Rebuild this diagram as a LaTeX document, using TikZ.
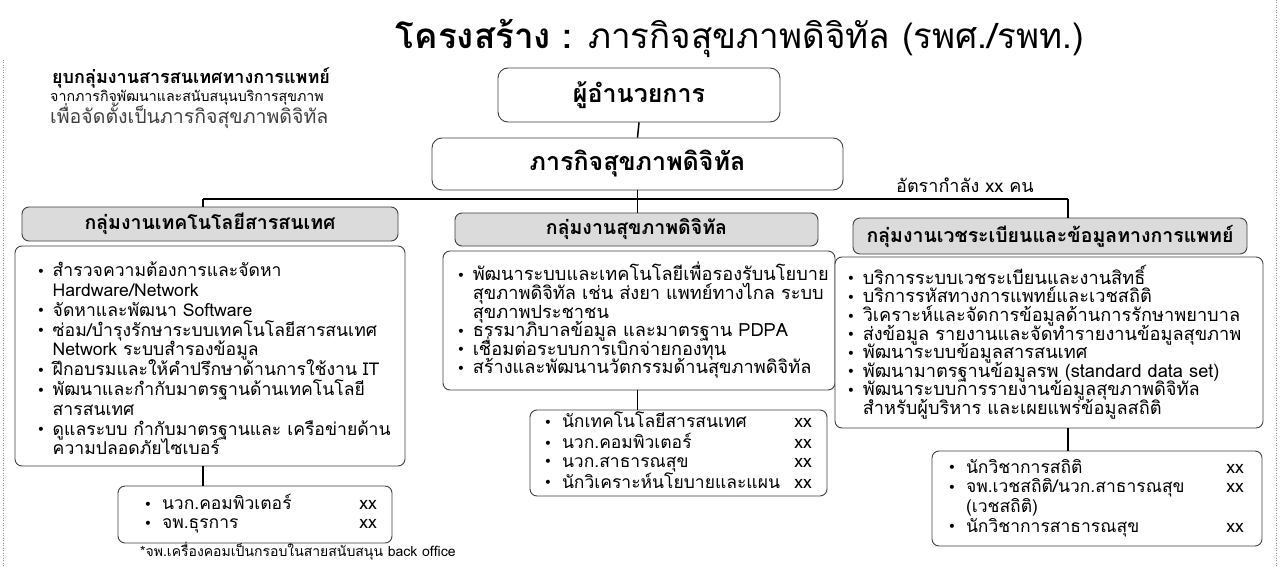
\documentclass[tikz,border=0pt]{standalone}
\usepackage{fontspec}
\setmainfont{Loma}[Script=Thai]
\newfontfamily\symf{DejaVu Sans}
\newcommand\mybul{{\symf\fontsize{14}{14}\selectfont\raisebox{0.5pt}{•}}}
\newcommand\bset{\lineskiplimit=-100pt\relax\lineskip=0pt\relax\parskip=0pt\relax}
\newcommand\bitem{\par\noindent\makebox[16pt][l]{\mybul}}
\newcommand\bcont{\par\noindent\hspace*{16pt}}
\begin{document}
\begin{tikzpicture}[x=1pt,y=-1pt,
  box/.style={draw=black!75,line width=0.9pt,rounded corners=7pt,inner sep=0pt,fill=white},
  hdr/.style={box,fill=black!14},
  conn/.style={line width=1.5pt,draw=black},
  txt/.style={inner sep=0pt,align=left},
  btxt/.style={inner sep=0pt,text width=415pt,align=left},
  bodyA/.style={btxt,font=\fontsize{17.6}{19.8}\selectfont},
  bodyB/.style={btxt,font=\fontsize{18.2}{18.6}\selectfont},
  botf/.style={font=\fontsize{17.5}{18.5}\selectfont},
  hfont/.style={font=\fontsize{19.5}{21}\selectfont\bfseries},
  scan/.style={draw=black!40,line width=0.5pt,dotted}
]
\useasboundingbox (0,0) rectangle (1280,567);
\fill[white] (0,0) rectangle (1280,567);
\draw[scan] (3,60) -- (3,567);
\draw[scan] (1276,0) -- (1276,567);

% title
\node[inner sep=0pt] (title) at (740,38) {\fontsize{35}{38}\selectfont\textbf{โครงสร้าง :} ภารกิจสุขภาพดิจิทัล (รพศ./รพท.)};

% intro text
\node[anchor=base west,inner sep=0pt] (intro1) at (52,84) {\fontsize{18}{20}\selectfont\bfseries ยุบกลุ่มงานสารสนเทศทางการแพทย์};
\node[anchor=base west,inner sep=0pt] (intro2) at (50,102) {\fontsize{14.2}{16}\selectfont จากภารกิจพัฒนาและสนับสนุนบริการสุขภาพ};
\node[anchor=base west,inner sep=0pt,text=black!75] (intro3) at (50,124) {\fontsize{19.5}{21}\selectfont เพื่อจัดตั้งเป็นภารกิจสุขภาพดิจิทัล};

% top boxes
\node[box,rounded corners=10pt,minimum width=282pt,minimum height=54pt] (dir) at (639,95) {\fontsize{25}{27}\selectfont\bfseries ผู้อำนวยการ};
\node[box,rounded corners=10pt,minimum width=411pt,minimum height=52pt] (mis) at (637.5,164) {\fontsize{25}{27}\selectfont\bfseries ภารกิจสุขภาพดิจิทัล};

\coordinate (hl) at (203,199);
\coordinate (hr) at (1068,199);
\node[anchor=base,inner sep=0pt] (rate) at (965,192) {\fontsize{18}{20}\selectfont อัตรากำลัง xx คน};

% column 1
\node[hdr,minimum width=376pt,minimum height=34pt,hfont] (h1) at (210,224) {กลุ่มงานเทคโนโลยีสารสนเทศ};
\node[box,minimum width=390pt,minimum height=220pt] (b1) at (210,356) {};
\node[bodyA,anchor=west] (b1t) at ([xshift=22pt]b1.west) {\bset
\bitem สำรวจความต้องการและจัดหา
\bcont Hardware/Network
\bitem จัดหาและพัฒนา Software
\bitem ซ่อม/บำรุงรักษาระบบเทคโนโลยีสารสนเทศ
\bcont Network ระบบสำรองข้อมูล
\bitem ฝึกอบรมและให้คำปรึกษาด้านการใช้งาน IT
\bitem พัฒนาและกำกับมาตรฐานด้านเทคโนโลยี
\bcont สารสนเทศ
\bitem ดูแลระบบ กำกับมาตรฐานและ เครือข่ายด้าน
\bcont ความปลอดภัยไซเบอร์\par};
\node[box,minimum width=274pt,minimum height=57pt] (bot1) at (255,514.5) {};
\node[txt,anchor=west,font=\fontsize{17.5}{19}\selectfont] (bot1t) at ([xshift=26pt]bot1.west) {\begin{tabular*}{233pt}{@{}l@{\hspace{10pt}}l@{\extracolsep{\fill}}r@{}}
\mybul & นวก.คอมพิวเตอร์ & xx\\
\mybul & จพ.ธุรการ & xx
\end{tabular*}};
\node[anchor=base west,inner sep=0pt] (fn) at (140,556) {\fontsize{14}{16}\selectfont *จพ.เครื่องคอมเป็นกรอบในสายสนับสนุน back office};

% column 2
\node[hdr,minimum width=363pt,minimum height=33pt,hfont] (h2) at (636.5,229.5) {กลุ่มงานสุขภาพดิจิทัล};
\node[box,minimum width=392pt,minimum height=139pt] (b2) at (639,320.5) {};
\node[bodyB,anchor=west] (b2t) at ([xshift=14pt]b2.west) {\bset
\bitem พัฒนาระบบและเทคโนโลยีเพื่อรองรับนโยบาย
\bcont สุขภาพดิจิทัล เช่น ส่งยา แพทย์ทางไกล ระบบ
\bcont สุขภาพประชาชน
\bitem ธรรมาภิบาลข้อมูล และมาตรฐาน PDPA
\bitem เชื่อมต่อระบบการเบิกจ่ายกองทุน
\bitem สร้างและพัฒนานวัตกรรมด้านสุขภาพดิจิทัล\par};
\node[box,minimum width=297pt,minimum height=86pt] (bot2) at (678.5,453) {};
\node[txt,anchor=west,botf] (bot2t) at ([xshift=14pt]bot2.west) {\begin{tabular*}{268pt}{@{}l@{\hspace{10pt}}l@{\extracolsep{\fill}}r@{}}
\mybul & นักเทคโนโลยีสารสนเทศ & xx\\
\mybul & นวก.คอมพิวเตอร์ & xx\\
\mybul & นวก.สาธารณสุข & xx\\
\mybul & นักวิเคราะห์นโยบายและแผน & xx
\end{tabular*}};

% column 3
\node[hdr,minimum width=394pt,minimum height=36pt,hfont] (h3) at (1050,236) {กลุ่มงานเวชระเบียนและข้อมูลทางการแพทย์};
\node[box,minimum width=428pt,minimum height=171pt] (b3) at (1049,342.5) {};
\node[bodyB,anchor=west] (b3t) at ([xshift=12pt]b3.west) {\bset
\bitem บริการระบบเวชระเบียนและงานสิทธิ์
\bitem บริการรหัสทางการแพทย์และเวชสถิติ
\bitem วิเคราะห์และจัดการข้อมูลด้านการรักษาพยาบาล
\bitem ส่งข้อมูล รายงานและจัดทำรายงานข้อมูลสุขภาพ
\bitem พัฒนาระบบข้อมูลสารสนเทศ
\bitem พัฒนามาตรฐานข้อมูลรพ (standard data set)
\bitem พัฒนาระบบการรายงานข้อมูลสุขภาพดิจิทัล
\bcont สำหรับผู้บริหาร และเผยแพร่ข้อมูลสถิติ\par};
\node[box,minimum width=330pt,minimum height=95pt] (bot3) at (1097,498.5) {};
\node[txt,anchor=west,font=\fontsize{17.5}{19}\selectfont] (bot3t) at ([xshift=16pt]bot3.west) {\begin{tabular*}{296pt}{@{}l@{\hspace{10pt}}l@{\extracolsep{\fill}}r@{}}
\mybul & นักวิชาการสถิติ & xx\\
\mybul & จพ.เวชสถิติ/นวก.สาธารณสุข & xx\\
 & (เวชสถิติ) & \\
\mybul & นักวิชาการสาธารณสุข & xx
\end{tabular*}};

% connectors
\draw[conn] (dir.south) -- (mis.north);
\draw[conn] (mis.south) -- (mis.south |- hl);
\draw[conn] (hl) -- (hr);
\draw[conn] (hl) -- (hl |- h1.north);
\draw[conn] (mis.south |- hl) -- (mis.south |- h2.north);
\draw[conn] (hr) -- (hr |- h3.north);
\draw[conn] (hl |- b1.south) -- (hl |- bot1.north);
\draw[conn] (mis.south |- b2.south) -- (mis.south |- bot2.north);
\draw[conn] (hr |- b3.south) -- (hr |- bot3.north);
\end{tikzpicture}
\end{document}
